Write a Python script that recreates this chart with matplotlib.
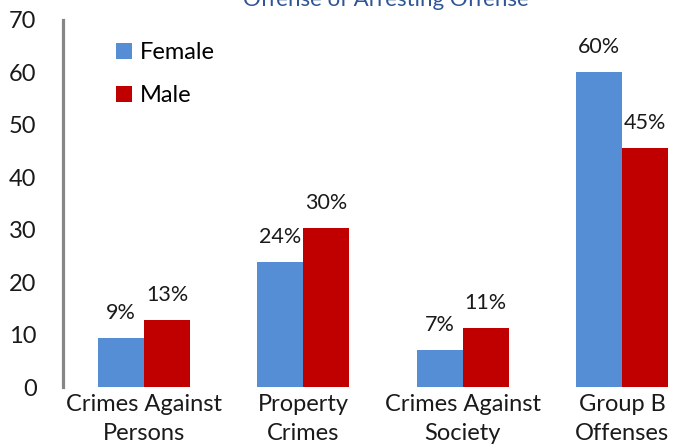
import matplotlib

matplotlib.use("Agg")
import matplotlib.pyplot as plt
import numpy as np

# Data
categories = ["Crimes Against\nPersons", "Property\nCrimes", "Crimes Against\nSociety", "Group B\nOffenses"]
female = [9.3, 23.8, 7.1, 60.0]
male = [12.8, 30.3, 11.3, 45.6]
female_labels = ["9%", "24%", "7%", "60%"]
male_labels = ["13%", "30%", "11%", "45%"]
yticks = [0, 10, 20, 30, 40, 50, 60, 70]

FEMALE_COLOR = "#558ED5"
MALE_COLOR = "#C00000"
TEXT_COLOR = "#1a1a1a"

plt.rcParams["font.family"] = ["Lato", "DejaVu Sans"]

fig = plt.figure(figsize=(6.92, 4.47), dpi=100)
ax = fig.add_axes([63 / 692, 60 / 447, 638.6 / 692, 367 / 447])

x = np.arange(len(categories))
width = 0.289
b1 = ax.bar(x - width / 2, female, width, color=FEMALE_COLOR, label="Female")
b2 = ax.bar(x + width / 2, male, width, color=MALE_COLOR, label="Male")

for bars, labels in ((b1, female_labels), (b2, male_labels)):
    for rect, lab in zip(bars, labels):
        ax.annotate(
            lab,
            (rect.get_x() + rect.get_width() / 2, rect.get_height()),
            xytext=(0, 13.7),
            textcoords="offset points",
            ha="center",
            va="baseline",
            fontsize=15.5,
            color=TEXT_COLOR,
        )

ax.set_xlim(-0.508, 3.5)
ax.set_ylim(0, 70)
ax.set_yticks(yticks)
ax.set_yticklabels([str(t) for t in yticks], fontsize=17, color=TEXT_COLOR)
ax.set_xticks(x)
ax.set_xticklabels(categories, fontsize=17, color=TEXT_COLOR, linespacing=1.5)
ax.tick_params(axis="y", length=0, pad=19)
ax.tick_params(axis="x", length=0, pad=5)

for side in ("top", "right", "bottom"):
    ax.spines[side].set_visible(False)
ax.spines["left"].set_color("#868686")
ax.spines["left"].set_linewidth(2.3)

ax.legend(
    loc="upper left",
    bbox_to_anchor=(116 / 692, 1 - 42 / 447),
    bbox_transform=fig.transFigure,
    frameon=False,
    fontsize=17,
    borderpad=0,
    borderaxespad=0,
    handlelength=0.68,
    handleheight=0.68,
    handletextpad=0.35,
    labelspacing=0.95,
)

fig.text(
    386 / 692,
    1 - 6 / 447,
    "Offense of Arresting Offense",
    ha="center",
    va="baseline",
    fontsize=16,
    color="#2F5597",
)

fig.savefig("out.png", dpi=100)
